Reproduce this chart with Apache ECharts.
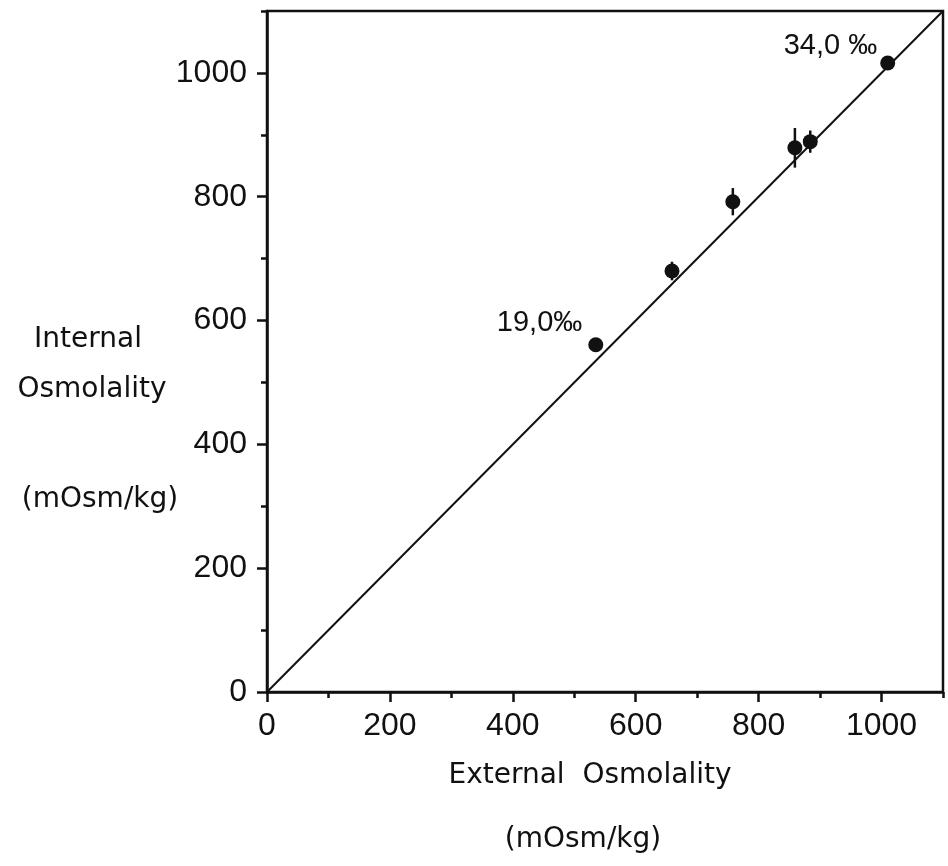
<!DOCTYPE html>
<html>
<head>
<meta charset="utf-8">
<title>Internal vs External Osmolality</title>
<script src="https://cdn.jsdelivr.net/npm/echarts@6/dist/echarts.min.js"></script>
<style>
  html, body { margin: 0; padding: 0; background: #fff; }
  #chart { width: 948px; height: 866px; }
</style>
</head>
<body>
<div id="chart"></div>
<script>
// Mean internal osmolality at each external osmolality (mOsm/kg), with error half-widths
const externalOsm = [535, 659, 758, 859, 884, 1010];
const internalOsm = [561, 680, 792, 879, 889, 1016];
const internalErr = [8, 15, 22, 32, 18, 10];
// Salinity annotations attached to the first and last points
const salinityLabels = { 0: '19,0‰', 5: '34,0 ‰' };
// Line of isosmolality (internal = external)
const isoLine = [[0, 0], [1100, 1100]];
const axisMin = 0, axisMax = 1100, majorStep = 200, minorStep = 100;

const ink = '#111';
const tickFont = { fontFamily: 'Liberation Sans', fontSize: 32, color: ink };
const titleFont = { fontFamily: 'DejaVu Sans', fontSize: 28, fill: ink };

const pointData = externalOsm.map((x, i) => {
  const item = { value: [x, internalOsm[i]] };
  if (salinityLabels[i] !== undefined) {
    item.label = {
      show: true,
      formatter: salinityLabels[i],
      position: 'left',
      distance: i === 0 ? 6 : 3,
      offset: i === 0 ? [0, -22] : [0, -17],
      fontFamily: 'Liberation Sans',
      fontSize: 29,
      color: ink
    };
  }
  return item;
});
const errData = externalOsm.map((x, i) => [x, internalOsm[i] - internalErr[i], internalOsm[i] + internalErr[i]]);

function majorAxis(pos) {
  return {
    type: 'value', position: pos, min: axisMin, max: axisMax, interval: majorStep,
    axisLine: { show: true, onZero: false, lineStyle: { color: ink, width: 2.5 } },
    axisTick: { show: true, inside: false, length: 10, lineStyle: { color: ink, width: 2.5 } },
    axisLabel: Object.assign({ margin: pos === 'left' ? 20 : 18, showMaxLabel: false, formatter: v => String(v) }, tickFont),
    splitLine: { show: false }
  };
}
function minorAxis(pos) {
  return {
    type: 'value', position: pos, offset: 0, min: axisMin, max: axisMax, interval: minorStep,
    axisLine: { show: false },
    axisTick: { show: true, inside: false, length: 6, lineStyle: { color: ink, width: 2.5 } },
    axisLabel: { show: false },
    splitLine: { show: false }
  };
}

function title(text, cx, cy) {
  return { type: 'text', x: cx, y: cy, style: Object.assign({ text: text, align: 'center', verticalAlign: 'middle' }, titleFont) };
}

const chart = echarts.init(document.getElementById('chart'), null, { renderer: 'canvas' });
chart.setOption({
  backgroundColor: '#fff',
  animation: false,
  grid: { left: 267, right: 5, top: 11, bottom: 174, show: true, borderColor: ink, borderWidth: 2.5, backgroundColor: 'transparent' },
  xAxis: [majorAxis('bottom'), minorAxis('bottom')],
  yAxis: [majorAxis('left'), minorAxis('left')],
  series: [
    {
      type: 'line', data: isoLine, showSymbol: false, symbol: 'none',
      lineStyle: { color: ink, width: 2 }, z: 2
    },
    {
      type: 'custom', data: errData, z: 3,
      renderItem: function (params, api) {
        const lo = api.coord([api.value(0), api.value(1)]);
        const hi = api.coord([api.value(0), api.value(2)]);
        return { type: 'line', shape: { x1: lo[0], y1: lo[1], x2: hi[0], y2: hi[1] }, style: { stroke: ink, lineWidth: 2.5 } };
      }
    },
    {
      type: 'scatter', data: pointData, symbol: 'circle', symbolSize: 15,
      itemStyle: { color: ink, opacity: 1 }, z: 4
    }
  ],
  graphic: [
    title('Internal', 88, 340),
    title('Osmolality', 92, 390),
    title('(mOsm/kg)', 100, 500),
    title('External  Osmolality', 590, 776),
    title('(mOsm/kg)', 583, 840)
  ]
});
</script>
</body>
</html>
